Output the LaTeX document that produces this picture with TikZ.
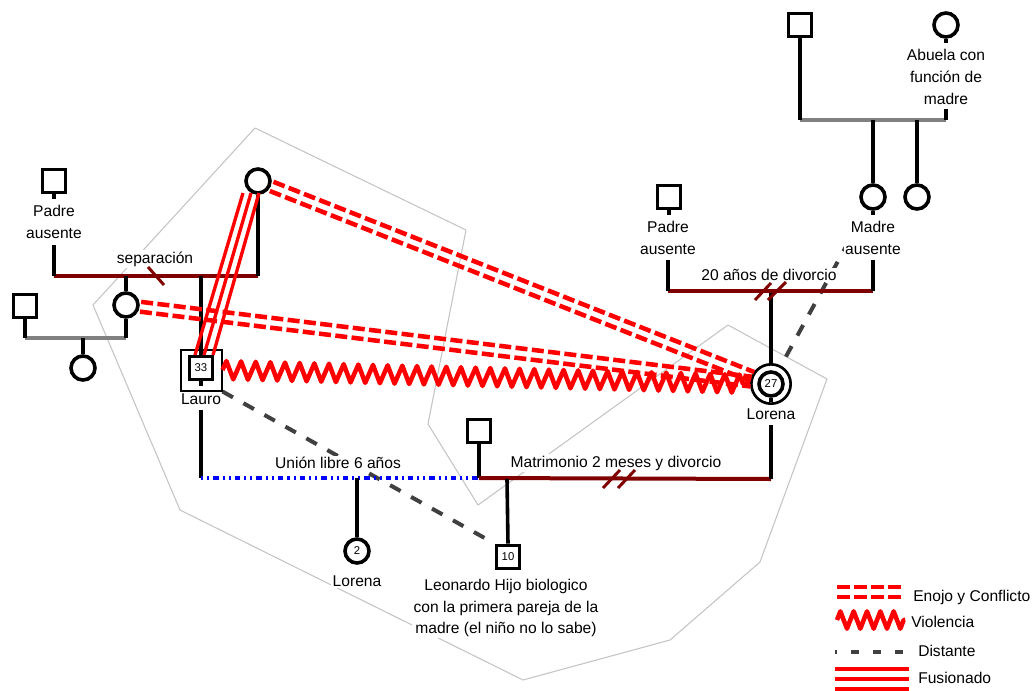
\documentclass[tikz,border=0pt]{standalone}
\usepackage{fontspec}
\setmainfont{Liberation Sans}
\usetikzlibrary{calc,decorations.pathmorphing}
\definecolor{maroonline}{HTML}{800000}
\definecolor{greyline}{HTML}{808080}
\definecolor{distgrey}{HTML}{404040}
\definecolor{outlinegrey}{HTML}{C4C4C4}
\pgfdeclarelayer{bg}
\pgfdeclarelayer{dist}
\pgfsetlayers{bg,dist,main}
\tikzset{
  person/.style={draw=black, line width=2.7pt, fill=white, inner sep=0pt,
    font=\fontsize{8.5}{9}\selectfont},
  male/.style={person, rectangle, minimum size=17.5pt},
  female/.style={person, circle, minimum size=18pt},
  lbl/.style={font=\fontsize{11.7}{16.2}\selectfont, align=center, inner sep=1pt, fill=white},
  keytext/.style={font=\fontsize{11.7}{14}\selectfont, anchor=base west, inner sep=0pt},
  tie/.style={line width=2.7pt, black},
  couple/.style={line width=3pt, maroonline},
  sibline/.style={line width=3pt, greyline},
  union/.style={line width=2.7pt, blue, dash pattern={on 1.6pt off 3pt on 1.6pt off 3pt on 4pt off 3pt}},
  cut/.style={line width=2.2pt, maroonline},
  conflict/.style={red, line width=3.4pt, dash pattern=on 9pt off 3.3pt},
  violence/.style={red, line width=3.4pt, line join=round, decorate,
    decoration={zigzag, segment length=11pt, amplitude=6.8pt}},
  distant/.style={distgrey, line width=3pt, dash pattern=on 9pt off 9pt},
  fused/.style={red, line width=2.5pt},
  household/.style={outlinegrey, line width=0.8pt, line join=round},
}
\begin{document}
\begin{tikzpicture}[x=0.75pt,y=-0.75pt]
\useasboundingbox (0,0) rectangle (1033,690);

% household outline
\begin{pgfonlayer}{bg}
\draw[household] (255,128) -- (466,230) -- (428,424) -- (478,505) -- (728,325)
  -- (827,379) -- (760,562) -- (670,640) -- (523,680) -- (180,510) -- (93,305) -- cycle;
\end{pgfonlayer}

% ---------- persons ----------
\node[male]   (pa1) at (54,181) {};
\node[female] (gm)  at (258,181) {};
\node[female] (c2)  at (126,305) {};
\node[male]   (s3)  at (25,306) {};
\node[female] (c4)  at (83,368) {};
\node[draw, line width=1.5pt, minimum size=30.75pt, inner sep=0pt] (lauroOut) at (201,370) {};
\node[male]   (lauro) at (201,368) {33};
\node[female] (lor2) at (357,551) {2};
\node[male]   (m5)  at (479,431) {};
\node[male]   (leo) at (508,557) {10};
\node[draw, circle, line width=2pt, minimum size=29.5pt, inner sep=0pt] (lorOut) at (771,384) {};
\node[female] (lor) at (771,384) {27};
\node[male]   (pa2) at (669,197) {};
\node[female] (ma)  at (873,197) {};
\node[female] (sis) at (917,197) {};
\node[male]   (gf)  at (800,25) {};
\node[female] (ab)  at (946,25) {};

% ---------- labels ----------
\node[lbl] (pa1l) at (54,222) {Padre\\ausente};
\node[lbl] (sepl) at (155,259) {separación};
\node[lbl, fill=none] (laurol) at (201,399) {Lauro};
\node[lbl] (ul) at (338,463) {Unión libre 6 años};
\node[lbl] (lor2l) at (357,581) {Lorena};
\node[lbl] (ml) at (616,463) {Matrimonio 2 meses y divorcio};
\node[lbl] (leol) at (506,608) {Leonardo Hijo biologico\\con la primera pareja de la\\madre (el niño no lo sabe)};
\node[lbl, fill=none] (lorl) at (771,414) {Lorena};
\node[lbl] (dl) at (769,275) {20 años de divorcio};
\node[lbl] (pa2l) at (668,238) {Padre\\ausente};
\node[lbl] (mal) at (873,238) {Madre\\ausente};
\node[lbl] (abl) at (946,77) {Abuela con\\función de\\madre};

% ---------- junction points ----------
\coordinate (j1) at (54,276);
\coordinate (j2) at (258,276);
\coordinate (j3) at (201,276);
\coordinate (j4) at (126,276);
\coordinate (g1) at (25,338);
\coordinate (g2) at (126,338);
\coordinate (g3) at (83,338);
\coordinate (u1) at (201,478);
\coordinate (u2) at (479,478);
\coordinate (u3) at (357,478);
\coordinate (mm2) at (771,479);
\coordinate (mm3) at (507,479);
\coordinate (d1) at (668,291);
\coordinate (d2) at (771,291);
\coordinate (d3) at (873,291);
\coordinate (t1) at (800,120);
\coordinate (t2) at (946,120);
\coordinate (t3) at (873,120);
\coordinate (t4) at (917,120);

% ---------- family lines ----------
% Lauro's parents (separated)
\draw[couple] (j1) -- (j2);
\draw[tie, shorten <=4pt] (pa1l.south) -- (j1);
\draw[tie] (gm.south) -- (j2);
\draw[tie] (j3) -- (lauro.north);
\draw[tie] (j4) -- (c2.north);
\coordinate (sepA) at (148,267);
\coordinate (sepB) at (164,285);
\draw[cut] (sepA) -- (sepB);
% left couple
\draw[sibline] (g1) -- (g2);
\draw[tie] (s3.south) -- (g1);
\draw[tie] (c2.south) -- (g2);
\draw[tie] (g3) -- (c4.north);
% Lauro and Lorena's union
\draw[tie, shorten <=3pt] (laurol.south) -- (u1);
\draw[union] (u1) -- (u2);
\draw[tie] (u3) -- (lor2.north);
% Lorena's marriage
\draw[tie] (m5.south) -- (u2);
\draw[couple] (u2) -- (mm2);
\draw[tie] (mm3) -- (leo.north);
\draw[tie, shorten <=3pt] (lorl.south) -- (mm2);
\coordinate (cutA1) at (603,488); \coordinate (cutA2) at (620,470);
\coordinate (cutB1) at (618,488); \coordinate (cutB2) at (635,470);
\draw[cut] (cutA1) -- (cutA2);
\draw[cut] (cutB1) -- (cutB2);
% Lorena's parents (divorced)
\draw[tie] (lorOut.north) -- (d2);
\draw[couple] (d1) -- (d3);
\draw[tie, shorten <=3pt] (pa2l.south) -- (d1);
\draw[tie, shorten <=3pt] (mal.south) -- (d3);
\coordinate (cutC1) at (755,300); \coordinate (cutC2) at (771,283);
\coordinate (cutD1) at (768,300); \coordinate (cutD2) at (786,282);
\draw[cut] (cutC1) -- (cutC2);
\draw[cut] (cutD1) -- (cutD2);
% maternal grandparents
\draw[sibline] (t1) -- (t2);
\draw[tie] (gf.south) -- (t1);
\draw[tie, shorten <=2pt] (abl.south) -- (t2);
\draw[tie] (t3) -- (ma.north);
\draw[tie] (t4) -- (sis.north);

% symbol stubs
\draw[tie] (pa1.south) -- ++(0,5);
\draw[tie] (pa2.south) -- ++(0,5);
\draw[tie] (ma.south) -- ++(0,4);
\draw[tie] (ab.south) -- ++(0,4);
\draw[tie] (lauro.south) -- ++(0,5);
\draw[tie] (lor.south) -- ++(0,4);

% ---------- emotional relationships ----------
\begin{pgfonlayer}{dist}
\draw[distant] (lauroOut.south east) -- (leo.north west);
\draw[distant, shorten <=13pt, shorten >=10pt] (lor) -- (ma);
\end{pgfonlayer}

\draw[conflict, shorten <=11pt, shorten >=15pt] ($(gm)!3.7pt!90:(lor)$) -- ($(lor)!3.7pt!-90:(gm)$);
\draw[conflict, shorten <=11pt, shorten >=15pt] ($(gm)!3.7pt!-90:(lor)$) -- ($(lor)!3.7pt!90:(gm)$);
\draw[conflict, shorten <=11pt, shorten >=15pt] ($(c2)!3.7pt!90:(lor)$) -- ($(lor)!3.7pt!-90:(c2)$);
\draw[conflict, shorten <=11pt, shorten >=15pt] ($(c2)!3.7pt!-90:(lor)$) -- ($(lor)!3.7pt!90:(c2)$);

\draw[fused] ($(gm)+(-15,12)$) -- ($(lauro)+(-6,-13)$);
\draw[fused] ($(gm)+(-7,12)$) -- ($(lauro)+(3,-13)$);
\draw[fused] ($(gm)+(1,12)$) -- ($(lauro)+(12,-13)$);

\draw[violence] (lauroOut.east) -- (lorOut.west);

% ---------- key ----------
\coordinate (k1a) at (837,587); \coordinate (k1b) at (902,587);
\coordinate (k2a) at (837,597); \coordinate (k2b) at (902,597);
\draw[conflict, dash pattern=on 9.75pt off 3pt] (k1a) -- (k1b);
\draw[conflict, dash pattern=on 9.75pt off 3pt] (k2a) -- (k2b);
\node[keytext] (kt1) at (913,601) {Enojo y Conflicto};

\coordinate (k3a) at (837,620); \coordinate (k3b) at (905,620);
\draw[violence, decoration={zigzag, segment length=10pt, amplitude=6.5pt}] (k3a) -- (k3b);
\node[keytext] (kt2) at (911,627) {Violencia};

\coordinate (k4a) at (835,652); \coordinate (k4b) at (903,652);
\draw[distant, dash pattern=on 6pt off 10.5pt, dash phase=4.5pt] (k4a) -- (k4b);
\node[keytext] (kt3) at (918,656) {Distante};

\coordinate (k5a) at (835,669); \coordinate (k5b) at (909,669);
\coordinate (k6a) at (835,679); \coordinate (k6b) at (909,679);
\coordinate (k7a) at (835,689); \coordinate (k7b) at (909,689);
\draw[fused] (k5a) -- (k5b);
\draw[fused] (k6a) -- (k6b);
\draw[fused] (k7a) -- (k7b);
\node[keytext] (kt4) at (918,683) {Fusionado};
\end{tikzpicture}
\end{document}
